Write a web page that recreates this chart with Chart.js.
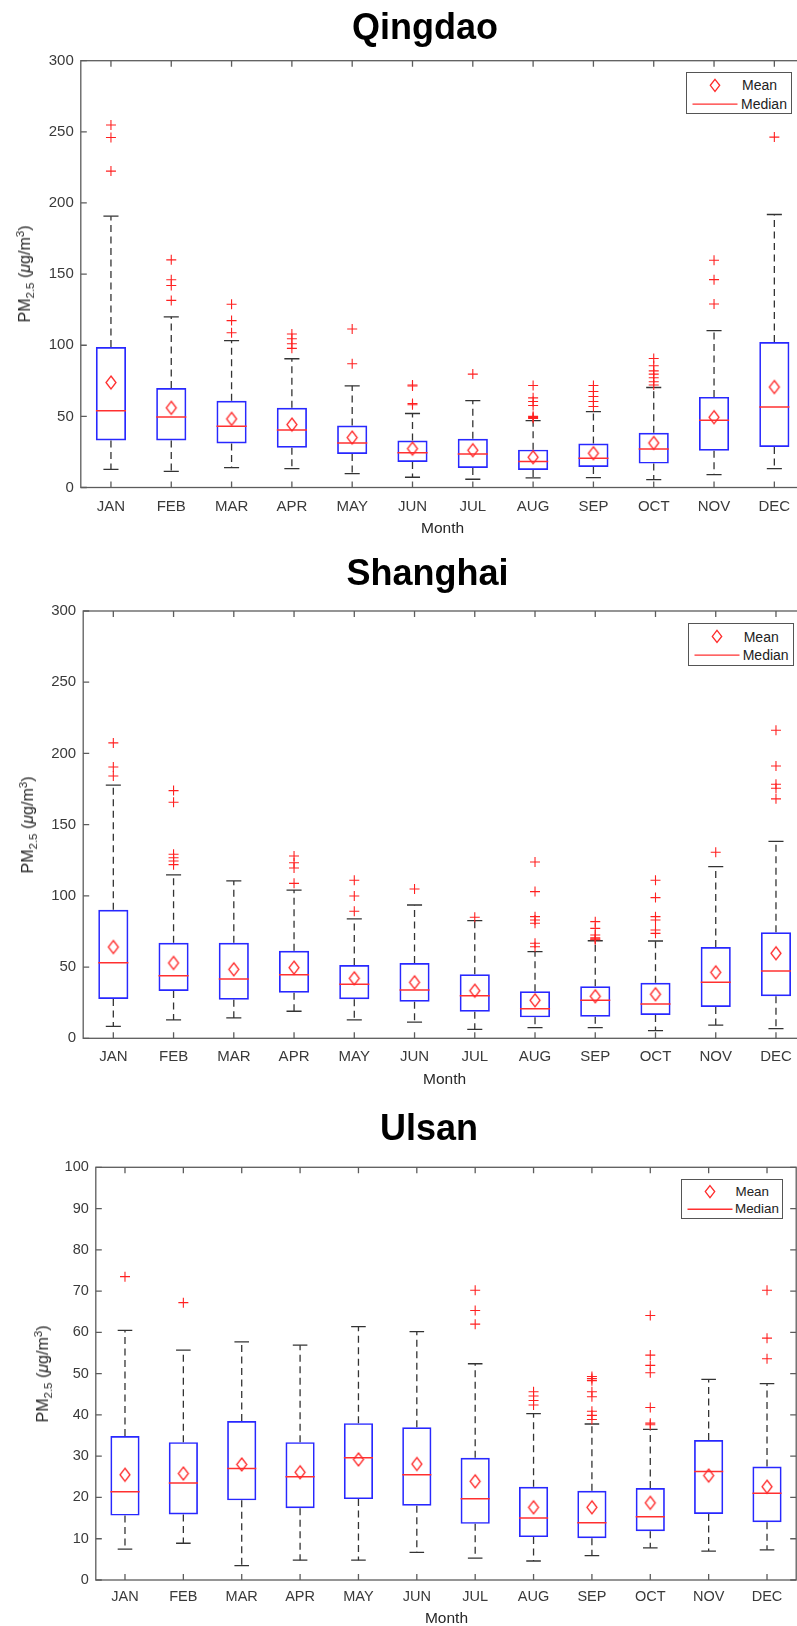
<!DOCTYPE html>
<html><head><meta charset="utf-8">
<script src="https://cdn.jsdelivr.net/npm/chart.js@4.4.0/dist/chart.umd.min.js"></script>
<style>
html,body{margin:0;padding:0;background:#fff;}
body{width:797px;height:1626px;overflow:hidden;position:relative;font-family:"Liberation Sans",Arial,sans-serif;}
canvas{position:absolute;left:0;}
.title{position:absolute;font-weight:bold;font-size:36px;line-height:36px;color:#000;white-space:nowrap;transform:translateX(-50%);z-index:3;}
.ylab{position:absolute;font-size:16px;line-height:18px;color:#262626;white-space:nowrap;transform:translate(-50%,-50%) rotate(-90deg);z-index:3;}
.ylab sub,.ylab sup{font-size:11.5px;line-height:0;}
.xlab{position:absolute;font-size:15.5px;line-height:18px;color:#262626;white-space:nowrap;transform:translate(-50%,-50%);z-index:3;}
.legend{position:absolute;border:1px solid #555;background:#fff;z-index:4;box-sizing:border-box;}
.legend span{position:absolute;line-height:16px;color:#222;transform:translateY(-50%);white-space:nowrap;}
.legend svg{position:absolute;left:0;top:0;}
</style>
</head><body>
<canvas id="c1" width="820" height="540" style="top:0px"></canvas>
<canvas id="c2" width="820" height="530" style="top:560px"></canvas>
<canvas id="c3" width="820" height="506" style="top:1120px"></canvas>
<script>
const months = ['JAN','FEB','MAR','APR','MAY','JUN','JUL','AUG','SEP','OCT','NOV','DEC'];

// Qingdao
const qdQ1 = [33, 33, 30.9, 28, 23.6, 18, 13.7, 12.3, 14.4, 16.8, 25.9, 28.5];
const qdQ3 = [98.7, 69.9, 60.9, 56, 43.5, 33, 34.2, 26.6, 30.9, 38.4, 63.7, 102.3];
const qdMedian = [53.9, 49.6, 43.1, 40.5, 31.3, 24.5, 23.6, 18.2, 20.5, 27.1, 47.3, 56.5];
const qdMean = [73.8, 56, 48.2, 44.2, 35.1, 27.3, 26.2, 21.3, 24.1, 31.3, 49.4, 70.6];
const qdLow = [12.8, 11.4, 14, 13.3, 9.7, 7.2, 5.8, 6.7, 6.9, 5.5, 9, 13.3];
const qdHigh = [190.7, 120, 103.2, 90.5, 71.5, 52, 61.1, 47, 53.4, 70.3, 110.2, 191.9];
const qdOutliers = [[254.8,246,222.4],[160,146,142,131.5],[128.8,117.3,108.8],[107.9,104.6,101,97.8],[111.4,87],[72,71.3,59,58.2],[79.7],[71.7,63,60.4,57.6,50,49.3,48.6],[71.7,67.5,64,60.4,56.9],[90.7,85.6,82,79.7,77.1,74.3,72],[159.7,146.1,129],[246.3]];

// Shanghai
const shQ1 = [27.6, 33.2, 27.1, 32, 27.4, 25.7, 18.7, 14.7, 15.2, 16.4, 22, 29.5];
const shQ3 = [90.3, 67.1, 67.1, 61.5, 51.5, 52.9, 44.9, 33, 36.5, 39, 64.1, 74.4];
const shMedian = [53.1, 44, 41.6, 44.7, 37.9, 33.9, 29.9, 20.8, 26.7, 24.1, 39.3, 47.3];
const shMean = [64.1, 52.9, 48.4, 49.6, 42.1, 39.3, 33.4, 26.7, 29.5, 30.9, 46.3, 59.7];
const shLow = [8.4, 12.9, 14.3, 19, 12.9, 11.4, 6.3, 7.5, 7.5, 5.4, 9.3, 6.8];
const shHigh = [177.7, 114.7, 110.5, 104.1, 83.8, 93.6, 82.6, 60.8, 68.5, 68.3, 120.5, 138.3];
const shOutliers = [[207.4,190.5,184.2],[173.9,165.7,129.2,126.8,124.5,121.9],[],[128,123.3,119.6,108.8],[111,99.9,89.2],[104.8],[85],[123.8,103,85.4,83.1,80.8,66.7,64.3],[81.9,77.2,72.5,70.6,69.8,69.2],[111,98.8,85.4,83.1,76,73.7],[130.6],[216.3,191.2,178.4,175.6,168.1]];

// Ulsan
const usQ1 = [15.6, 15.9, 19.3, 17.4, 19.6, 18, 13.6, 10.4, 10.1, 11.8, 16, 14];
const usQ3 = [34.9, 33.4, 38.5, 33.4, 38, 37, 29.6, 22.6, 21.6, 22.3, 33.9, 27.5];
const usMedian = [21.4, 23.5, 27, 25, 29.6, 25.5, 19.7, 15, 13.9, 15.3, 26.3, 21];
const usMean = [25.5, 25.8, 28, 26.1, 29.2, 28.1, 23.9, 17.6, 17.6, 18.7, 25.3, 22.6];
const usLow = [7.5, 8.9, 3.5, 4.8, 4.8, 6.7, 5.3, 4.6, 5.9, 7.8, 7, 7.3];
const usHigh = [60.5, 55.7, 57.7, 56.9, 61.4, 60.2, 52.4, 40.3, 37.8, 36.5, 48.6, 47.6];
const usOutliers = [[73.5],[67.2],[],[],[],[],[70.2,65.3,62],[45.6,44.6,43.5,42.4],[49.3,48.8,48.3,45.6,44.4,40.9,39.9,38.9],[64.1,54.5,52,50.2,41.8,38,37.6],[],[70.2,58.6,53.6]];

const qdTicks = [0,50,100,150,200,250,300];
const shTicks = [0,50,100,150,200,250,300];
const usTicks = [0,10,20,30,40,50,60,70,80,90,100];

// diamond marker
function makeDiamond(w,h,color,lw){
  const c=document.createElement('canvas'); c.width=w+4; c.height=h+4;
  const g=c.getContext('2d'); g.strokeStyle=color; g.lineWidth=lw;
  const cx=c.width/2, cy=c.height/2;
  g.beginPath(); g.moveTo(cx,cy-h/2); g.lineTo(cx+w/2,cy); g.lineTo(cx,cy+h/2); g.lineTo(cx-w/2,cy); g.closePath(); g.stroke();
  return c;
}
const diamond = makeDiamond(10,13,'#ff2a2a',1.3);

const framePlugin = {
  id:'frame',
  afterDatasetsDraw(chart){
    const {ctx, chartArea:a, scales:{x,y}} = chart;
    ctx.save();
    ctx.strokeStyle='#5c5c5c'; ctx.lineWidth=1.3;
    ctx.strokeRect(a.left,a.top,a.right-a.left,a.bottom-a.top);
    ctx.beginPath();
    y.ticks.forEach(t=>{const py=y.getPixelForValue(t.value); ctx.moveTo(a.left,py); ctx.lineTo(a.left+6,py); ctx.moveTo(a.right,py); ctx.lineTo(a.right-6,py);});
    months.forEach((m,i)=>{const px=x.getPixelForValue(i); ctx.moveTo(px,a.bottom); ctx.lineTo(px,a.bottom-6); ctx.moveTo(px,a.top); ctx.lineTo(px,a.top+6);});
    ctx.stroke();
    ctx.restore();
  }
};

function buildChart(id, q1,q3,med,mean,lo,hi,out, yMax, yStep, tickVals, yW, padTop, padRight, padBottom, fontSize, labPad){
  const catW = c => c.chart.scales.x ? c.chart.scales.x.width/12 : 60;
  const ds = [];
  ds.push({type:'bar', data: months.map((m,i)=>[q1[i],q3[i]]), borderColor:'#2828ff', backgroundColor:'rgba(0,0,0,0)', borderWidth:1.7, borderSkipped:false, barPercentage:0.5, categoryPercentage:1, order:6});
  months.forEach((m,i)=>{
    ds.push({type:'line', data:[{x:m,y:q3[i]},{x:m,y:hi[i]}], borderColor:'#333', borderWidth:1.3, borderDash:[7,4.5], pointRadius:0, order:5});
    ds.push({type:'line', data:[{x:m,y:q1[i]},{x:m,y:lo[i]}], borderColor:'#333', borderWidth:1.3, borderDash:[7,4.5], pointRadius:0, order:5});
  });
  ds.push({type:'line', showLine:false, data: months.map((m,i)=>({x:m,y:hi[i]})).concat(months.map((m,i)=>({x:m,y:lo[i]}))), pointStyle:'line', pointRadius: c=>catW(c)*0.125, pointBorderColor:'#333', pointBorderWidth:1.3, order:4});
  const outPts=[]; months.forEach((m,i)=>out[i].forEach(v=>outPts.push({x:m,y:v})));
  ds.push({type:'line', showLine:false, data: outPts, pointStyle:'cross', pointRadius:5, pointBorderColor:'#ff2020', pointBorderWidth:1.1, order:3});
  ds.push({type:'line', showLine:false, data: months.map((m,i)=>({x:m,y:med[i]})), pointStyle:'line', pointRadius: c=>catW(c)*0.25, pointBorderColor:'#ff3030', pointBorderWidth:1.5, order:2});
  ds.push({type:'line', showLine:false, data: months.map((m,i)=>({x:m,y:mean[i]})), pointStyle:diamond, pointRadius:6, order:1});

  return new Chart(document.getElementById(id), {
    type:'bar',
    data:{labels:months, datasets:ds},
    options:{
      responsive:false, animation:false, events:[],
      layout:{padding:{left:0, top:padTop, right:padRight, bottom:padBottom}},
      plugins:{legend:{display:false}, tooltip:{enabled:false}, title:{display:false}},
      scales:{
        x:{type:'category', offset:true, grid:{display:false, drawTicks:false}, border:{display:false},
           ticks:{color:'#3a3a3a', font:{family:'"Liberation Sans", Arial, sans-serif', size:fontSize}, padding:labPad, maxRotation:0, autoSkip:false},
           afterFit(s){s.height=40;}},
        y:{type:'linear', min:0, max:yMax, grid:{display:false, drawTicks:false}, border:{display:false},
           afterBuildTicks(s){s.ticks = tickVals.map(v=>({value:v}));},
           ticks:{stepSize:yStep, color:'#3a3a3a', font:{family:'"Liberation Sans", Arial, sans-serif', size:fontSize}, padding:7},
           afterFit(s){s.width=yW;}}
      }
    },
    plugins:[framePlugin]
  });
}

buildChart('c1', qdQ1,qdQ3,qdMedian,qdMean,qdLow,qdHigh,qdOutliers, 300,50,qdTicks, 80.8, 60.7, 15.5, 12.5, 15, 10);
buildChart('c2', shQ1,shQ3,shMedian,shMean,shLow,shHigh,shOutliers, 300,50,shTicks, 83.2, 51, 13.9, 11.7, 15, 10);
buildChart('c3', usQ1,usQ3,usMedian,usMean,usLow,usHigh,usOutliers, 100,10,usTicks, 95.8, 47.3, 23.8, 6, 14.5, 8.5);

// text overlays
const titles = [['Qingdao',425,8.5],['Shanghai',427.5,554.5],['Ulsan',429,1109.5]];
titles.forEach(([t,x,y])=>{const d=document.createElement('div'); d.className='title'; d.textContent=t; d.style.left=x+'px'; d.style.top=y+'px'; document.body.appendChild(d);});
const ylabs = [[25,273.5],[27.5,824.7],[43,1373.7]];
ylabs.forEach(([x,y])=>{const d=document.createElement('div'); d.className='ylab'; d.innerHTML='PM<sub>2.5</sub> (<i>&mu;</i>g/m<sup>3</sup>)'; d.style.left=x+'px'; d.style.top=y+'px'; document.body.appendChild(d);});
const xlabs = [[442.6,527.5],[444.6,1078.5],[446.5,1618]];
xlabs.forEach(([x,y])=>{const d=document.createElement('div'); d.className='xlab'; d.textContent='Month'; d.style.left=x+'px'; d.style.top=y+'px'; document.body.appendChild(d);});
const legends = [[686,71.7,105.7,42.6,14,55,54],[687.7,623.3,106.6,42.7,14,55,54],[681,1179,102.3,40,13.4,53.5,53]];
legends.forEach(([l,t,w,h,fs,tx1,tx2])=>{
  const d=document.createElement('div'); d.className='legend'; d.style.left=l+'px'; d.style.top=t+'px'; d.style.width=w+'px'; d.style.height=h+'px';
  const my=h*0.29, ly=h*0.73;
  d.innerHTML='<svg width="'+w+'" height="'+h+'"><polygon points="28,'+(my-6)+' 32.7,'+my+' 28,'+(my+6)+' 23.3,'+my+'" fill="none" stroke="#ff2a2a" stroke-width="1.3"/><line x1="5.5" x2="50.5" y1="'+ly+'" y2="'+ly+'" stroke="#ff3030" stroke-width="1.4"/></svg>'+
    '<span style="font-size:'+fs+'px;left:'+tx1+'px;top:'+my+'px">Mean</span><span style="font-size:'+fs+'px;left:'+tx2+'px;top:'+ly+'px">Median</span>';
  document.body.appendChild(d);
});
</script>
</body></html>
